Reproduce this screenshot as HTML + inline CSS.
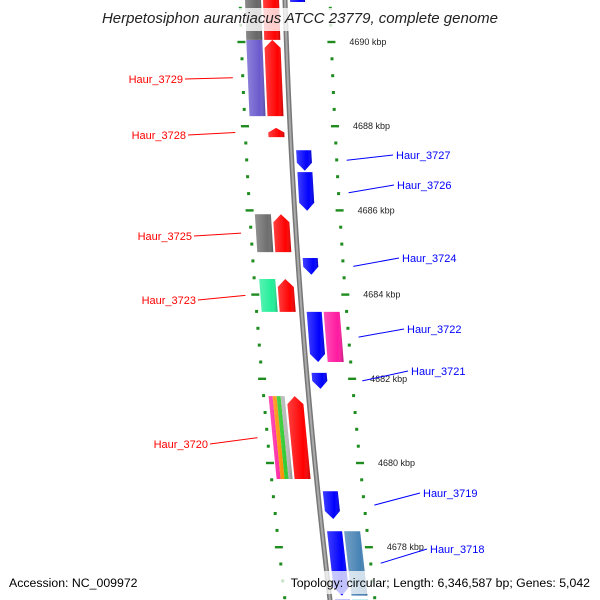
<!DOCTYPE html>
<html><head><meta charset="utf-8"><style>
html,body{margin:0;padding:0;background:#fff;width:600px;height:600px;overflow:hidden;}
svg{display:block;font-family:"Liberation Sans","DejaVu Sans",sans-serif;overflow:hidden;}
</style></head><body>
<svg id="map" width="600" height="600" viewBox="0 0 600 600" xmlns="http://www.w3.org/2000/svg">
<defs>
<linearGradient id="shade" x1="0" x2="1" y1="0" y2="0">
<stop offset="0" stop-color="#fff" stop-opacity="0.25"/><stop offset="0.7" stop-color="#fff" stop-opacity="0"/><stop offset="1" stop-color="#000" stop-opacity="0.25"/>
</linearGradient>
<clipPath id="clip"><rect x="0" y="0" width="600" height="600"/></clipPath>
</defs>
<g clip-path="url(#clip)">
<g id="ticks"></g>
<path id="backbone" fill="none" stroke="#777" stroke-width="5"/>
<path id="backbone2" fill="none" stroke="#aaa" stroke-width="2"/>
<g id="genes"></g>
<g id="labels"></g>
</g>
<rect x="0" y="8" width="600" height="23" fill="#fff" fill-opacity="0.8"/>
<text x="300" y="23" text-anchor="middle" font-size="15" font-style="italic" fill="#222">Herpetosiphon aurantiacus ATCC 23779, complete genome</text>
<rect x="0" y="571" width="600" height="23" fill="#fff" fill-opacity="0.75"/>
<text x="9" y="587" font-size="12.3" fill="#000">Accession: NC_009972</text>
<text x="590" y="587" text-anchor="end" font-size="12.3" fill="#000">Topology: circular; Length: 6,346,587 bp; Genes: 5,042</text>
</svg>
<script>
// data (kbp)
const majorTicks = [4690, 4688, 4686, 4684, 4682, 4680, 4678];
const geneNames = ["top","Haur_3729","Haur_3729b","Haur_3728","Haur_3727","Haur_3726","Haur_3725","Haur_3725b","Haur_3724","Haur_3723","Haur_3723b","Haur_3722","Haur_3722b","Haur_3721","Haur_3720","Haur_3720b","Haur_3719","Haur_3718","Haur_3718b","bot1","bot2","top2","top3"];
const geneStart = [4691.1,4688.24,4688.24,4687.74,4686.94,4685.99,4685.01,4685.01,4684.47,4683.59,4683.59,4682.40,4682.40,4681.76,4679.62,4679.62,4678.67,4676.85,4676.85,4676.0,4676.0,4690.05,4690.05];
const geneEnd   = [4690.95,4690.05,4690.05,4687.96,4687.43,4686.91,4685.91,4685.91,4684.87,4684.37,4684.37,4683.59,4683.59,4682.14,4681.59,4681.59,4679.33,4678.38,4678.38,4676.75,4676.75,4691.2,4691.2];
const geneStrand= [-1,1,1,1,-1,-1,1,1,-1,1,1,-1,-1,-1,1,1,-1,-1,-1,-1,-1,1,1];
const geneLane  = [1,1,2,1,1,1,1,2,1,1,2,1,2,1,1,2,1,1,2,1,2,1,2];
const geneColor = ["#0000ff","#ff0000","#6a5acd","#ff0000","#0000ff","#0000ff","#ff0000","#6e6e6e","#0000ff","#ff0000","#22ee99","#0000ff","#ff1aa0","#0000ff","#ff0000","multi","#0000ff","#0000ff","#4682b4","#0000ff","#00c8c8","#ff0000","#666666"];
const geneArrow = [1,1,0,1,1,1,1,0,1,1,0,1,0,1,1,0,1,1,0,0,0,0,0];
const labelNames = ["Haur_3729","Haur_3728","Haur_3727","Haur_3726","Haur_3725","Haur_3724","Haur_3723","Haur_3722","Haur_3721","Haur_3720","Haur_3719","Haur_3718"];
const labelKbp = [4689.15,4687.85,4687.19,4686.42,4685.46,4684.67,4683.98,4682.99,4681.95,4680.60,4679.0,4677.62];
const labelSide = [-1,-1,1,1,-1,1,-1,1,1,-1,1,1];
const labelTextY = [79,135,155,185,236,258,300,329,371,444,493,549];
const labelTextX = [183,186,396,397,192,402,196,407,411,208,423,430];

function yOf(k){ return 42 + (4690 - k) * 42.1; }
function bx(y){ return 285 + 0.03*y + 0.000075*y*y; }
const NS="http://www.w3.org/2000/svg";
function mk(tag, attrs, parent){ const e=document.createElementNS(NS,tag); for(const a in attrs) e.setAttribute(a,attrs[a]); parent.appendChild(e); return e; }

let d=""; for(let y=-5;y<=605;y+=5){ d+=(y===-5?"M":"L")+bx(y).toFixed(2)+" "+y+" "; }
document.getElementById('backbone').setAttribute('d',d);
document.getElementById('backbone2').setAttribute('d',d);

const tg=document.getElementById('ticks');
for(let k=4691.2;k>=4676.0;k-=0.4){
  const kr=Math.round(k*10)/10;
  const y=yOf(kr);
  if(y>600) continue;
  const major=majorTicks.some(m=>Math.abs(m-kr)<0.01);
  [-1,1].forEach(s=>{
    const x=bx(y)+s*45;
    const r=mk('rect',{x:(x-(major?4:1.5)).toFixed(1),y:(y-(major?1.2:1.5)).toFixed(1),width:major?8:3,height:major?2.4:3,fill:"#1e8c1e"},tg);
    
    
  });
  if(major){
    const t=mk('text',{x:(bx(y)+45+18).toFixed(1),y:(y+3).toFixed(1),"font-size":"9","fill":"#222"},tg);
    
    
    t.textContent=kr+" kbp";
  }
}

const gg=document.getElementById('genes');
const lanes={"-1":{1:[-22,-6],2:[-40,-24]},"1":{1:[5,20],2:[22,38]}};
const multiCols=["#ff1aa0","#ff8c00","#33cc33","#bbbbbb"];
for(let i=0;i<geneNames.length;i++){
  const side = geneStrand[i]===1?-1:1;
  const off = lanes[String(side)][geneLane[i]];
  const y1=Math.max(-5,yOf(geneEnd[i])), y2=Math.min(605,yOf(geneStart[i]));
  const ah = geneArrow[i] ? Math.min(8,(y2-y1)*0.5) : 0;
  const xs=(y)=>[bx(y)+off[0], bx(y)+off[1]];
  let pts;
  if(geneStrand[i]===1){
    const t=xs(y1), a=xs(y1+ah), b=xs(y2);
    pts = ah? [[(t[0]+t[1])/2,y1],[a[1],y1+ah],[b[1],y2],[b[0],y2],[a[0],y1+ah]] : [[t[0],y1],[t[1],y1],[b[1],y2],[b[0],y2]];
  } else {
    const t=xs(y1), a=xs(y2-ah), b=xs(y2);
    pts = ah? [[t[0],y1],[t[1],y1],[a[1],y2-ah],[(b[0]+b[1])/2,y2],[a[0],y2-ah]] : [[t[0],y1],[t[1],y1],[b[1],y2],[b[0],y2]];
  }
  const ps=pts.map(p=>p[0].toFixed(1)+","+p[1].toFixed(1)).join(" ");
  if(geneColor[i]==="multi"){
    const w=(off[1]-off[0])/multiCols.length;
    multiCols.forEach((c,j)=>{
      const a=off[0]+j*w, b=a+w;
      const p=[[bx(y1)+a,y1],[bx(y1)+b,y1],[bx(y2)+b,y2],[bx(y2)+a,y2]].map(p=>p[0].toFixed(1)+","+p[1].toFixed(1)).join(" ");
      const e=mk('polygon',{points:p,fill:c},gg);
      
      
    });
  } else {
    const e=mk('polygon',{points:ps,fill:geneColor[i]},gg);
    
    
  }
  const s=mk('polygon',{points:ps,fill:"url(#shade)"},gg);
  
  
}

const lg=document.getElementById('labels');
for(let i=0;i<labelNames.length;i++){
  const y=yOf(labelKbp[i]);
  const col=labelSide[i]<0?"#ff0000":"#0000ff";
  const fx=bx(y)+labelSide[i]*55;
  const tx=labelTextX[i], ty=labelTextY[i];
  const lx=labelSide[i]<0? tx+2 : tx-3;
  const l=mk('line',{x1:lx,y1:ty,x2:fx.toFixed(1),y2:y.toFixed(1),stroke:col,"stroke-width":"1"},lg);
  
  
  const t=mk('text',{x:tx,y:ty+4,"font-size":"11",fill:col,"text-anchor":labelSide[i]<0?"end":"start"},lg);
  
  
  t.textContent=labelNames[i];
}
</script>
</body></html>
